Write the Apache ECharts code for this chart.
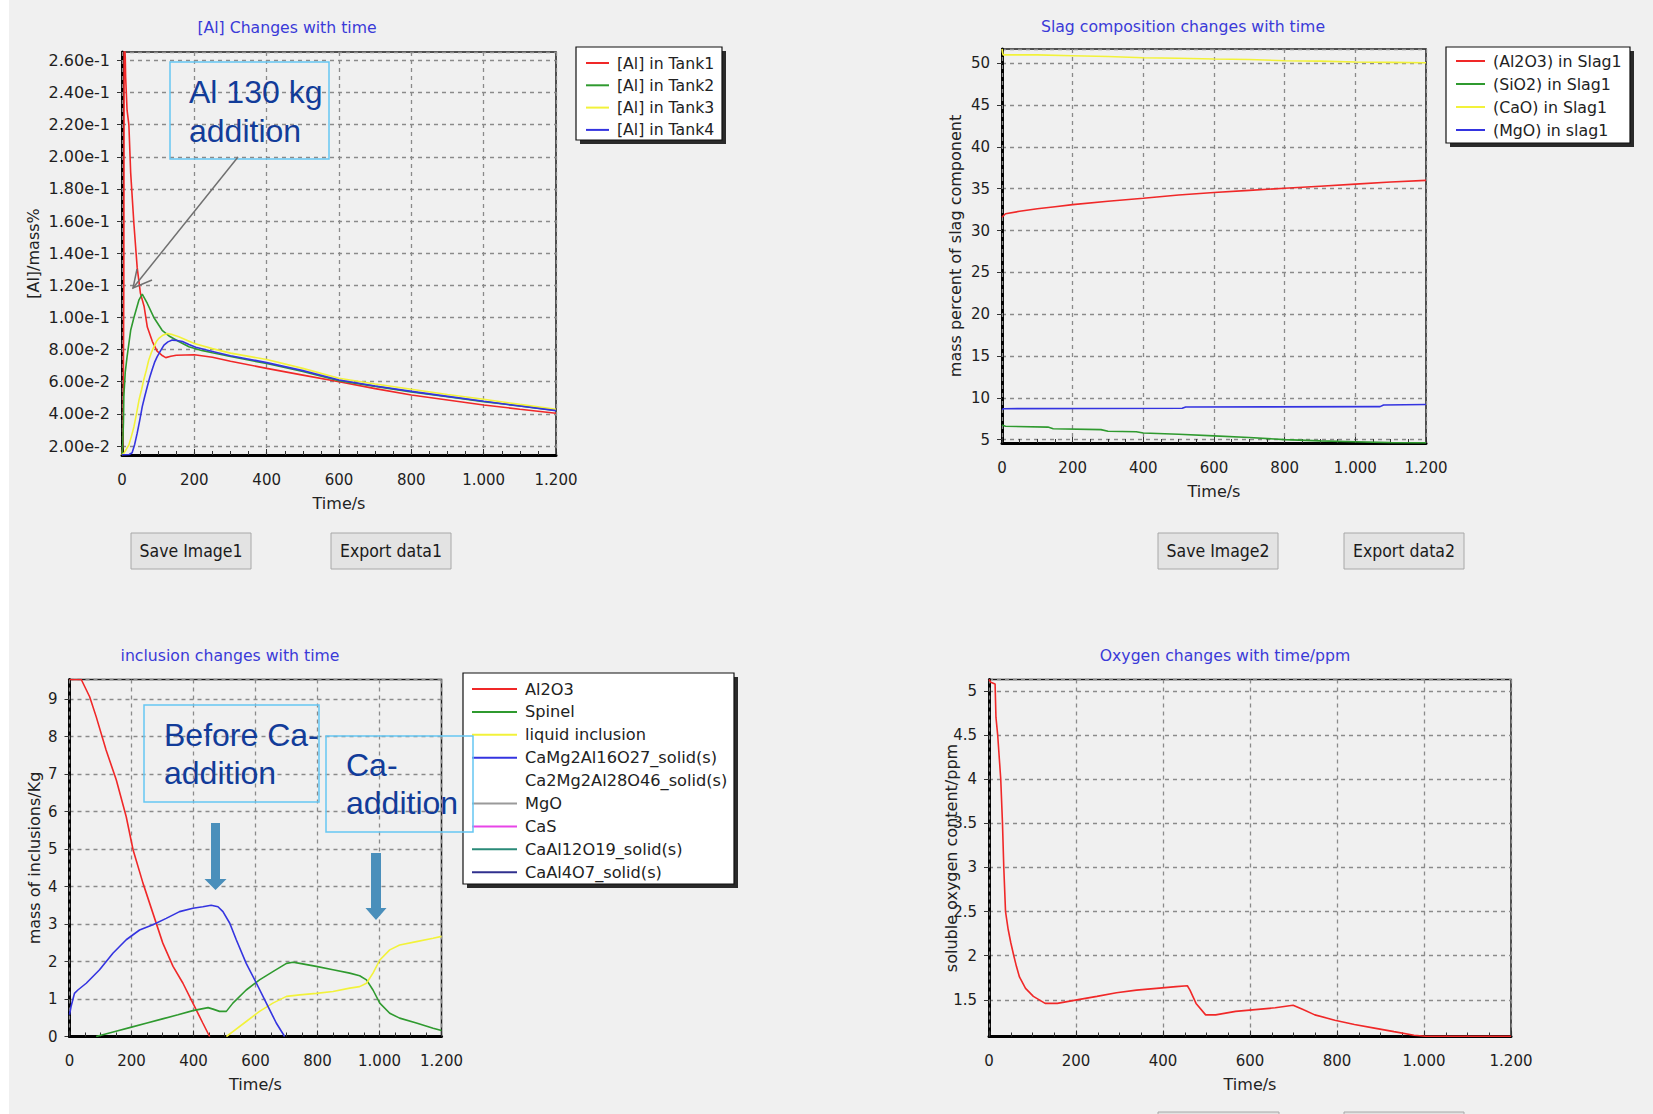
<!DOCTYPE html>
<html>
<head>
<meta charset="utf-8">
<script src="https://cdn.jsdelivr.net/npm/echarts@6/dist/echarts.min.js"></script>
<style>
  html, body { margin: 0; padding: 0; background: #ffffff; }
  #chart { width: 1653px; height: 1114px; background: linear-gradient(to right, #ffffff 9px, #f0f0f0 9px); }
</style>
</head>
<body>
<div id="chart"></div>
<script>
// ---------- shared time axis ----------
const timeMin = 0, timeMax = 1200, timeStep = 200;

// ---------- [Al] in the four tanks, mass% vs time (s) ----------
const alTank1 = [[0,0.0145],[3,0.022],[5,0.12],[6,0.275],[9,0.262],[10,0.250],[14,0.229],[19,0.220],[24,0.190],[33,0.158],[42,0.131],[51,0.115],[61,0.107],[70,0.094],[84,0.085],[97,0.079],[110,0.0765],[121,0.0750],[135,0.0758],[150,0.0765],[200,0.0768],[250,0.0752],[300,0.0728],[400,0.0683],[500,0.0641],[600,0.0600],[700,0.0557],[800,0.0517],[900,0.0486],[1000,0.0455],[1100,0.0429],[1200,0.0404]];
const alTank2 = [[0,0.0145],[2,0.020],[4,0.035],[5,0.0507],[9,0.066],[14,0.0755],[24,0.092],[33,0.100],[47,0.111],[56,0.1145],[70,0.1087],[88,0.100],[111,0.092],[130,0.0885],[157,0.085],[185,0.0818],[220,0.0795],[250,0.078],[300,0.0757],[400,0.0713],[500,0.0664],[600,0.0607],[700,0.0571],[800,0.0537],[900,0.0507],[1000,0.0476],[1100,0.0449],[1200,0.0421]];
const alTank3 = [[0,0.0145],[5,0.0155],[12,0.018],[19,0.0207],[26,0.026],[33,0.032],[40,0.040],[47,0.0486],[54,0.055],[60,0.0611],[67,0.067],[74,0.0735],[81,0.078],[88,0.0817],[95,0.085],[102,0.087],[113,0.089],[125,0.090],[140,0.0893],[157,0.088],[200,0.0838],[250,0.0806],[300,0.0778],[400,0.0738],[500,0.0683],[600,0.0622],[700,0.0586],[800,0.0553],[900,0.0521],[1000,0.0491],[1100,0.0459],[1200,0.0428]];
const alTank4 = [[0,0.0145],[20,0.0147],[28,0.0158],[35,0.021],[42,0.028],[49,0.036],[56,0.0445],[63,0.051],[70,0.057],[77,0.063],[83,0.0673],[90,0.072],[97,0.0755],[106,0.079],[116,0.0828],[127,0.0848],[139,0.0859],[152,0.0857],[167,0.085],[185,0.0832],[204,0.0815],[250,0.0788],[300,0.0762],[400,0.0719],[500,0.0669],[600,0.0611],[700,0.0573],[800,0.0540],[900,0.0509],[1000,0.0478],[1100,0.0449],[1200,0.0420]];

// ---------- slag composition, mass% vs time (s) ----------
const slagAl2O3 = [[0,31.6],[10,32.0],[50,32.3],[100,32.6],[150,32.85],[200,33.1],[300,33.5],[400,33.85],[500,34.25],[600,34.55],[700,34.8],[800,35.05],[900,35.3],[1000,35.55],[1100,35.8],[1200,36.0]];
const slagSiO2 = [[0,6.75],[10,6.6],[130,6.5],[145,6.3],[280,6.2],[300,6.0],[380,5.95],[400,5.8],[500,5.65],[600,5.45],[700,5.25],[800,5.0],[900,4.85],[1000,4.75],[1100,4.65],[1200,4.62]];
const slagCaO = [[0,51.7],[3,51.0],[100,51.0],[200,50.9],[300,50.8],[400,50.65],[500,50.6],[600,50.5],[700,50.45],[800,50.3],[900,50.25],[1000,50.15],[1100,50.1],[1200,50.05]];
const slagMgO = [[0,8.6],[5,8.7],[510,8.75],[520,8.9],[1070,8.95],[1080,9.15],[1200,9.2]];

// ---------- inclusion mass, kg vs time (s) ----------
const incAl2O3 = [[0,9.52],[38,9.52],[65,9.06],[86,8.53],[118,7.64],[151,6.84],[183,5.86],[205,4.98],[237,4.09],[269,3.29],[301,2.49],[334,1.87],[366,1.42],[398,0.89],[430,0.36],[452,0]];
const incSpinel = [[86,0],[150,0.14],[200,0.25],[250,0.36],[300,0.47],[350,0.58],[398,0.69],[447,0.77],[463,0.73],[484,0.67],[506,0.67],[527,0.89],[570,1.24],[613,1.51],[656,1.73],[700,1.95],[721,1.98],[743,1.95],[796,1.87],[850,1.78],[904,1.69],[936,1.62],[958,1.51],[979,1.24],[1001,0.89],[1033,0.62],[1065,0.49],[1119,0.36],[1173,0.22],[1200,0.16]];
const incLiquid = [[506,0],[527,0.13],[570,0.4],[613,0.67],[656,0.89],[700,1.07],[743,1.11],[796,1.15],[850,1.2],[904,1.29],[936,1.33],[958,1.42],[979,1.69],[1001,2.04],[1033,2.31],[1065,2.44],[1119,2.53],[1173,2.62],[1200,2.67]];
const incCaMg2Al16O27 = [[0,0.58],[5,0.8],[16,1.15],[27,1.24],[54,1.42],[97,1.78],[140,2.22],[183,2.58],[226,2.84],[269,2.98],[312,3.15],[355,3.33],[398,3.42],[430,3.46],[457,3.5],[479,3.46],[495,3.33],[517,3.02],[538,2.58],[570,1.95],[603,1.42],[635,0.89],[667,0.36],[694,0]];
const incCa2Mg2Al28O46 = [[0,0],[1200,0]];
const incMgO = [[0,0],[1200,0]];
const incCaS = [[0,0],[1200,0]];
const incCaAl12O19 = [[0,0],[1200,0]];
const incCaAl4O7 = [[0,0],[1200,0]];

// ---------- soluble oxygen, ppm vs time (s) ----------
const oxygenPpm = [[0,5.13],[4,5.1],[14,5.08],[16,4.7],[20,4.5],[27,4.0],[31,3.5],[34,3.0],[38,2.5],[44,2.3],[50,2.15],[57,2.0],[63,1.88],[70,1.76],[84,1.63],[102,1.54],[129,1.46],[157,1.46],[202,1.5],[248,1.54],[293,1.58],[339,1.61],[385,1.63],[430,1.65],[456,1.66],[462,1.61],[476,1.46],[498,1.33],[521,1.33],[567,1.37],[612,1.39],[658,1.41],[699,1.44],[722,1.39],[749,1.33],[795,1.27],[840,1.22],[886,1.18],[931,1.14],[977,1.10],[1004,1.088],[1200,1.088]];

// ---------- styling helpers ----------
const FONT = '"DejaVu Sans", sans-serif';
const RED = '#f02828', GREEN = '#2f9a2f', YELLOW = '#f2f23a', BLUE = '#3434e0';

function thousands(v) {
  if (v >= 1000) return Math.floor(v / 1000) + '.' + String(v % 1000).padStart(3, '0');
  return String(v);
}

function timeAxis(gridIndex) {
  return {
    type: 'value', gridIndex: gridIndex, min: timeMin, max: timeMax, interval: timeStep,
    name: 'Time/s', nameLocation: 'middle', nameGap: 40, nameMoveOverlap: false,
    nameTextStyle: { fontFamily: FONT, fontSize: 16, color: '#222' },
    axisLine: { show: true, onZero: false, lineStyle: { color: '#000', width: 3 } },
    axisTick: { show: true, inside: true, length: 6, lineStyle: { color: '#333', width: 1 } },
    minorTick: { show: true, splitNumber: 4, length: 4, lineStyle: { color: '#333', width: 1 } },
    axisLabel: { fontFamily: FONT, fontSize: 15, color: '#1e1e1e', margin: 17, formatter: thousands },
    splitLine: { show: true, lineStyle: { color: '#8a8a8a', type: [4, 4], width: 1.3 } },
    z: 1.5
  };
}

function valueAxis(gridIndex, min, max, splitNumber, name, nameGap, labelSize, formatter) {
  return {
    type: 'value', gridIndex: gridIndex, min: min, max: max, splitNumber: splitNumber,
    name: name, nameLocation: 'middle', nameGap: nameGap, nameMoveOverlap: false,
    nameTextStyle: { fontFamily: FONT, fontSize: 16, color: '#222' },
    axisLine: { show: true, onZero: false, lineStyle: { color: '#000', width: 3 } },
    axisTick: { show: true, inside: false, length: 5, lineStyle: { color: '#333', width: 1 } },
    axisLabel: { fontFamily: FONT, fontSize: labelSize, color: '#1e1e1e', margin: 12,
      showMinLabel: min === 0, showMaxLabel: false, formatter: formatter },
    splitLine: { show: true, lineStyle: { color: '#8a8a8a', type: [4, 4], width: 1.3 } }
  };
}

function line(name, data, color, axisIndex, z) {
  return {
    type: 'line', name: name, data: data, xAxisIndex: axisIndex, yAxisIndex: axisIndex,
    showSymbol: false, symbol: 'none', animation: false, clip: true, z: z || 2,
    lineStyle: { color: color, width: 1.6 }, itemStyle: { color: color }
  };
}

function legend(names, left, top, itemWidth, itemGap, fontSize) {
  return {
    orient: 'vertical', left: left, top: top, padding: 0,
    itemWidth: itemWidth, itemHeight: 2, itemGap: itemGap, selectedMode: false,
    data: names.map(n => ({ name: n, icon: 'rect' })),
    textStyle: { fontFamily: FONT, fontSize: fontSize, color: '#222', lineHeight: 16, padding: [0, 0, 0, 3] }
  };
}

// ---------- decorations: titles, legend frames, callouts, buttons ----------
const graphics = [];
function text(str, x, y, size, color, align, family, z) {
  graphics.push({ type: 'text', z: z || 10, style: {
    text: str, x: x, y: y, fill: color, fontSize: size, fontFamily: family || FONT,
    align: align || 'center', verticalAlign: 'middle' } });
}
function frame(x, y, w, h) {
  graphics.push({ type: 'rect', z: 1, shape: { x: x + 4, y: y + 4, width: w, height: h }, style: { fill: '#2a2a2a' } });
  graphics.push({ type: 'rect', z: 2, shape: { x: x, y: y, width: w, height: h }, style: { fill: '#ffffff', stroke: '#111', lineWidth: 1.2 } });
}
function callout(x, y, w, h) {
  graphics.push({ type: 'rect', z: 6, shape: { x: x, y: y, width: w, height: h }, style: { fill: 'none', stroke: '#66c6f2', lineWidth: 1.5 } });
}
function button(label, x, y, w, h) {
  graphics.push({ type: 'rect', z: 2, shape: { x: x, y: y, width: w, height: h }, style: { fill: '#e3e3e3', stroke: '#a8a8a8', lineWidth: 1 } });
  if (label) text(label, x + w / 2, y + h / 2, 17.5, '#1a1a1a', 'center', '"DejaVu Sans Condensed", "DejaVu Sans", sans-serif');
}
function downArrow(cx, top, shaftW, headTop, headW, tip, color) {
  graphics.push({ type: 'polygon', z: 6, shape: { points: [
    [cx - shaftW / 2, top], [cx + shaftW / 2, top], [cx + shaftW / 2, headTop], [cx + headW / 2, headTop],
    [cx, tip], [cx - headW / 2, headTop], [cx - shaftW / 2, headTop] ] }, style: { fill: color } });
}

const TITLE_BLUE = '#3a3ad8';
const NOTE_BLUE = '#123c99';
const NOTE_FONT = '"Liberation Sans", Arial, sans-serif';
const NOTE_SIZE = 32;

text('[Al] Changes with time', 287, 27, 15.7, TITLE_BLUE);
text('Slag composition changes with time', 1183, 26, 15.7, TITLE_BLUE);
text('inclusion changes with time', 230, 655, 15.7, TITLE_BLUE);
text('Oxygen changes with time/ppm', 1225, 655, 15.7, TITLE_BLUE);

frame(576, 47, 146, 93);
frame(1446, 47, 184, 96);
frame(463, 673, 271, 211);

// Al addition callout with pointer
callout(170, 62, 159, 97);
text('Al 130 kg', 189, 92, NOTE_SIZE, NOTE_BLUE, 'left', NOTE_FONT);
text('addition', 189, 131, NOTE_SIZE, NOTE_BLUE, 'left', NOTE_FONT);
graphics.push({ type: 'polyline', z: 6, shape: { points: [[238, 157], [133, 288]] }, style: { stroke: '#707070', lineWidth: 1.5, fill: 'none' } });
graphics.push({ type: 'polyline', z: 6, shape: { points: [[152, 280], [133, 288], [137, 269]] }, style: { stroke: '#707070', lineWidth: 1.5, fill: 'none' } });

// Ca addition callouts
callout(144, 705, 175, 97);
text('Before Ca-', 164, 735, NOTE_SIZE, NOTE_BLUE, 'left', NOTE_FONT);
text('addition', 164, 773, NOTE_SIZE, NOTE_BLUE, 'left', NOTE_FONT);
callout(326, 736, 147, 96);
text('Ca-', 346, 765, NOTE_SIZE, NOTE_BLUE, 'left', NOTE_FONT);
text('addition', 346, 803, NOTE_SIZE, NOTE_BLUE, 'left', NOTE_FONT);
downArrow(215.5, 823, 9, 879, 22, 890, '#4a8fbb');
downArrow(376, 853, 10, 908, 21, 920, '#4a8fbb');

// toolbar buttons
button('Save Image1', 131, 533, 120, 36);
button('Export data1', 331, 533, 120, 36);
button('Save Image2', 1158, 533, 120, 36);
button('Export data2', 1344, 533, 120, 36);
button('', 1158, 1112, 121, 36);
button('', 1344, 1112, 120, 36);

const gridBase = { show: true, borderColor: '#1a1a1a', borderWidth: 1.5, backgroundColor: 'transparent', containLabel: false };

const option = {
  animation: false,
  backgroundColor: 'transparent',
  grid: [
    Object.assign({ left: 122, top: 52, width: 434, height: 403 }, gridBase),
    Object.assign({ left: 1002, top: 49, width: 424, height: 394 }, gridBase),
    Object.assign({ left: 69.5, top: 679.5, width: 372, height: 357 }, gridBase),
    Object.assign({ left: 989, top: 679.5, width: 522, height: 357 }, gridBase)
  ],
  xAxis: [timeAxis(0), timeAxis(1), timeAxis(2), timeAxis(3)],
  yAxis: [
    valueAxis(0, 0.0144, 0.2652, 12, '[Al]/mass%', 81, 16, v => v.toExponential(2)),
    valueAxis(1, 4.6, 51.7, 9, 'mass percent of slag component', 39, 15),
    valueAxis(2, 0, 9.52, 9, 'mass of inclusions/Kg', 27, 15),
    valueAxis(3, 1.085, 5.13, 8, 'soluble oxygen content/ppm', 30, 15)
  ],
  legend: [
    legend(['[Al] in Tank1', '[Al] in Tank2', '[Al] in Tank3', '[Al] in Tank4'], 586, 55, 23, 6.3, 15.7),
    legend(['(Al2O3) in Slag1', '(SiO2) in Slag1', '(CaO) in Slag1', '(MgO) in slag1'], 1456, 53, 29, 7, 15.8),
    legend(['Al2O3', 'Spinel', 'liquid inclusion', 'CaMg2Al16O27_solid(s)', 'Ca2Mg2Al28O46_solid(s)',
            'MgO', 'CaS', 'CaAl12O19_solid(s)', 'CaAl4O7_solid(s)'], 472, 681, 45, 6.9, 16.2)
  ],
  series: [
    line('[Al] in Tank1', alTank1, RED, 0),
    line('[Al] in Tank2', alTank2, GREEN, 0),
    line('[Al] in Tank3', alTank3, YELLOW, 0),
    line('[Al] in Tank4', alTank4, BLUE, 0),

    line('(Al2O3) in Slag1', slagAl2O3, RED, 1),
    line('(SiO2) in Slag1', slagSiO2, GREEN, 1),
    line('(CaO) in Slag1', slagCaO, YELLOW, 1),
    line('(MgO) in slag1', slagMgO, BLUE, 1),

    line('Al2O3', incAl2O3, RED, 2),
    line('Spinel', incSpinel, GREEN, 2),
    line('liquid inclusion', incLiquid, YELLOW, 2),
    line('CaMg2Al16O27_solid(s)', incCaMg2Al16O27, BLUE, 2),
    line('Ca2Mg2Al28O46_solid(s)', incCa2Mg2Al28O46, '#ffffff', 2, 1),
    line('MgO', incMgO, '#9a9a9a', 2, 1),
    line('CaS', incCaS, '#e845e8', 2, 1),
    line('CaAl12O19_solid(s)', incCaAl12O19, '#2a8a78', 2, 1),
    line('CaAl4O7_solid(s)', incCaAl4O7, '#30308e', 2, 1),

    line('soluble oxygen', oxygenPpm, RED, 3)
  ],
  graphic: { elements: graphics }
};

const chart = echarts.init(document.getElementById('chart'), null, { renderer: 'svg' });
chart.setOption(option);
</script>
</body>
</html>
